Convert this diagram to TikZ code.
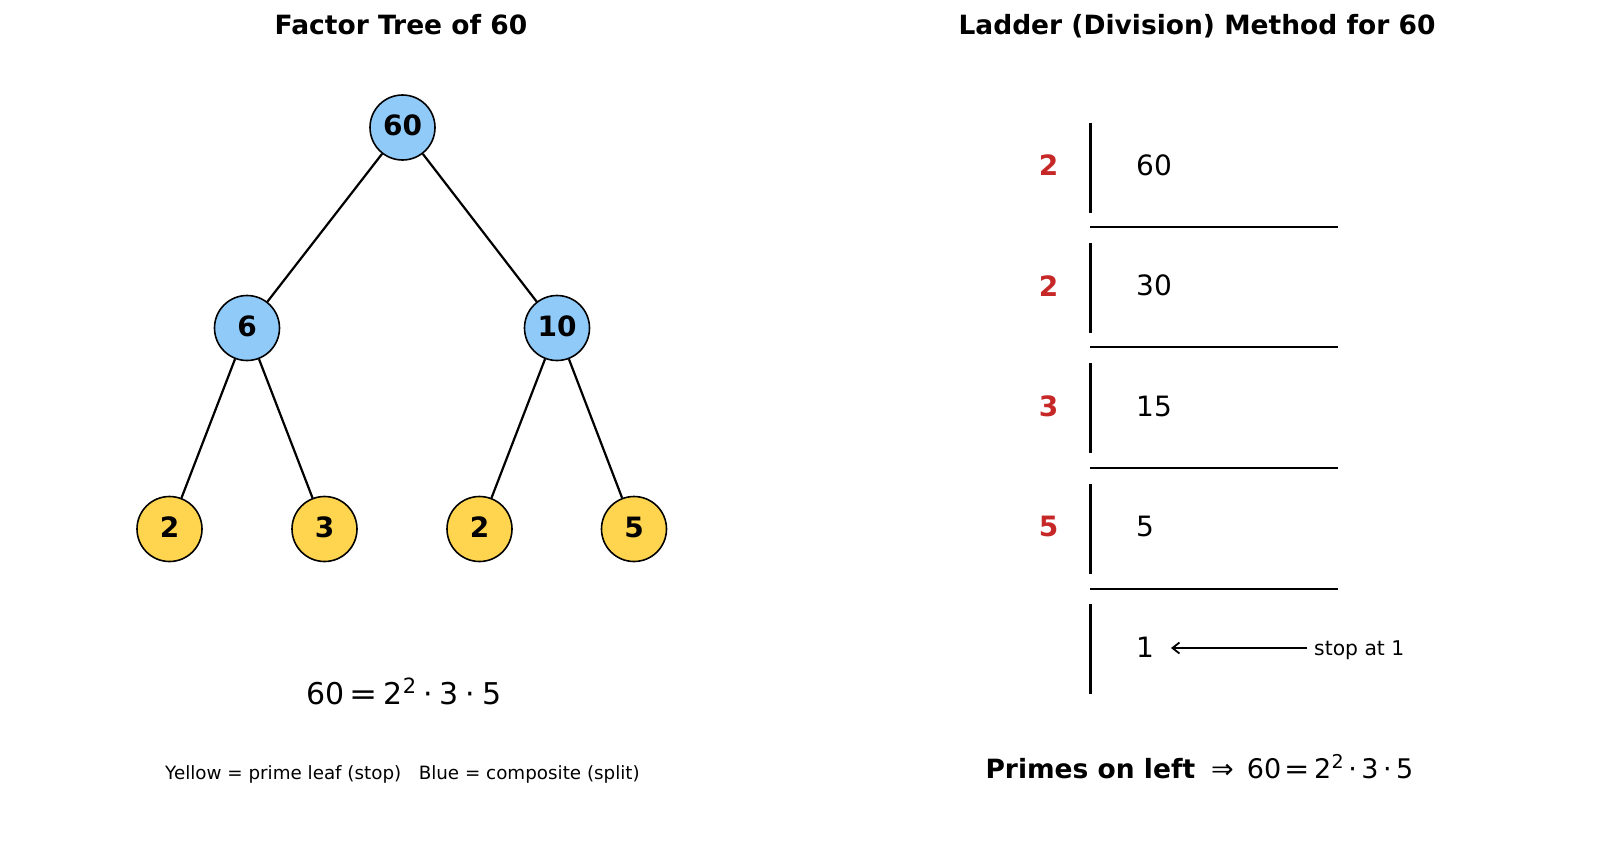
\documentclass[tikz,border=0pt]{standalone}
\usepackage{fontspec}
\usepackage{graphicx}
\setmainfont{DejaVu Sans}
\usetikzlibrary{arrows.meta}
\definecolor{nodeblue}{HTML}{90CAF9}
\definecolor{nodeyellow}{HTML}{FFD54F}
\definecolor{ladred}{HTML}{C62828}
\newcommand{\fsz}[1]{\fontsize{#1}{#1}\selectfont}
\newcommand{\wideeq}{\scalebox{1.12}[1]{=}}
\begin{document}
\begin{tikzpicture}[x=1pt,y=-1pt,
  treenode/.style={circle,draw=black,line width=1.6pt,minimum size=65pt,inner sep=0pt,text depth=4pt,font=\fsz{28}\bfseries},
  comp/.style={treenode,fill=nodeblue},
  prime/.style={treenode,fill=nodeyellow},
  edge/.style={line width=2.2pt},
  titletext/.style={inner sep=0pt,anchor=base,font=\fsz{26.5}\bfseries},
  ladnum/.style={inner sep=0pt,anchor=west,font=\fsz{28}},
  divnum/.style={inner sep=0pt,anchor=center,font=\fsz{28}\bfseries,text=ladred},
  vline/.style={line width=3pt},
  hline/.style={line width=2pt},
  captext/.style={inner sep=0pt,font=\fsz{18.3}},
  notetext/.style={inner sep=0pt,font=\fsz{20.3}},
  arrowline/.style={line width=1.8pt,-{Straight Barb[length=7pt,width=11pt,line width=1.8pt]}}
]
\useasboundingbox (0,0) rectangle (1600,865);

% titles
\node[titletext] (t1) at (401,34) {Factor Tree of 60};
\node[titletext] (t2) at (1197,34) {Ladder (Division) Method for 60};

% tree nodes
\node[comp]  (n60) at (402.5,127.5) {60};
\node[comp]  (n6)  at (247,328) {6};
\node[comp]  (n10) at (557,328) {10};
\node[prime] (l1)  at (169.5,529) {2};
\node[prime] (l2)  at (324.5,529) {3};
\node[prime] (l3)  at (479.5,529) {2};
\node[prime] (l4)  at (634,529) {5};

\draw[edge] (n60) -- (n6);
\draw[edge] (n60) -- (n10);
\draw[edge] (n6) -- (l1);
\draw[edge] (n6) -- (l2);
\draw[edge] (n10) -- (l3);
\draw[edge] (n10) -- (l4);

% tree formula and caption
\node[inner sep=0pt,anchor=base west,font=\fsz{30}] (f1) at (306.7,704.3) {60\hspace{4.5pt}\wideeq\hspace{5.5pt}2\hspace{0.5pt}\raisebox{10.6pt}{\fsz{21}2}\hspace{7pt}·\hspace{7pt}3\hspace{7pt}·\hspace{7pt}5};
\node[captext,anchor=base] (cap) at (402.5,779) {Yellow = prime leaf (stop)\hspace{0.954em}Blue = composite (split)};

% ladder
\foreach \k in {0,...,4}{
  \draw[vline] (1090,{122.5+120.4*\k}) -- (1090,{212.5+120.4*\k});
}
\foreach \k in {0,...,3}{
  \draw[hline] (1090,{226.7+120.7*\k}) -- (1338,{226.7+120.7*\k});
}
\node[divnum] (d1) at (1048.5,165.5) {2};
\node[divnum] (d2) at (1048.5,285.8) {2};
\node[divnum] (d3) at (1048.5,406.2) {3};
\node[divnum] (d4) at (1048.5,526.5) {5};
\node[ladnum] (q1) at (1136,165.5) {60};
\node[ladnum] (q2) at (1136,285.8) {30};
\node[ladnum] (q3) at (1136,406.2) {15};
\node[ladnum] (q4) at (1136,526.5) {5};
\node[ladnum] (q5) at (1136,647) {1};

\coordinate (arrtail) at (1307,648);
\coordinate (arrtip) at (1171,648);
\draw[arrowline] (arrtail) -- (arrtip);
\node[notetext,anchor=base west] (stop) at (1314,655) {stop at 1};

% ladder result
\node[inner sep=0pt,anchor=base west,font=\fsz{27}] (res) at (985.3,778) {{\fsz{26.5}\bfseries Primes on left}\hspace{16pt}⇒\hspace{13pt}60\hspace{3pt}\wideeq\hspace{4.5pt}2\hspace{0.5pt}\raisebox{9.9pt}{\fsz{19}2}\hspace{4.5pt}·\hspace{4.5pt}3\hspace{4.5pt}·\hspace{4.5pt}5};
\end{tikzpicture}
\end{document}
